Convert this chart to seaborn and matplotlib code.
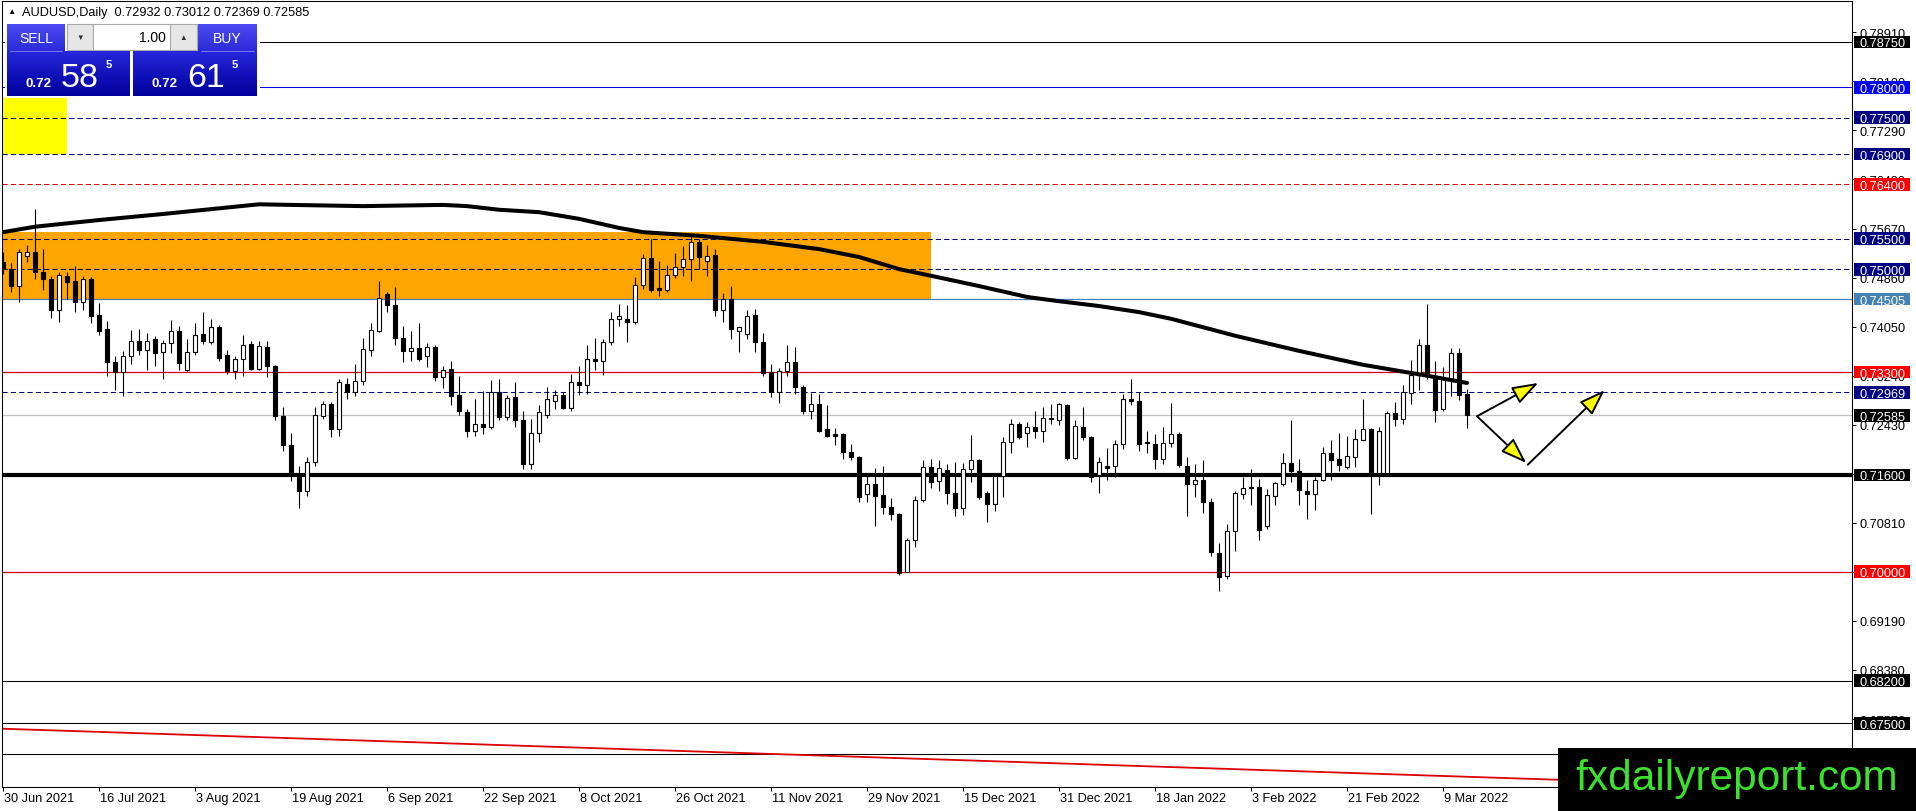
### AUDUSD daily chart, redrawn the way the MT4 terminal shows it

# 1. We import the librairies that we need
import numpy as np
import seaborn as sns
import matplotlib.pyplot as plt
import matplotlib.transforms as mtransforms
from matplotlib.patches import Rectangle
from matplotlib.colors import LinearSegmentedColormap

# 2. The values

symbol = "AUDUSD"
spread = 0.0003

date_labels = ["30 Jun 2021", "16 Jul 2021", "3 Aug 2021", "19 Aug 2021", "6 Sep 2021",
               "22 Sep 2021", "8 Oct 2021", "26 Oct 2021", "11 Nov 2021", "29 Nov 2021",
               "15 Dec 2021", "31 Dec 2021", "18 Jan 2022", "3 Feb 2022", "21 Feb 2022",
               "9 Mar 2022"]
date_label_bars = [0, 12, 24, 36, 48, 60, 72, 84, 96, 108, 120, 132, 144, 156, 168, 180]

opens = [
    0.7511, 0.7500, 0.7472, 0.7522, 0.7529, 0.7495, 0.7484, 0.7432, 0.7488, 0.7481,
    0.7446, 0.7484, 0.7424, 0.7401, 0.7346, 0.7330, 0.7357, 0.7381, 0.7366, 0.7384,
    0.7363, 0.7378, 0.7398, 0.7334, 0.7363, 0.7393, 0.7380, 0.7404, 0.7358, 0.7332,
    0.7351, 0.7377, 0.7335, 0.7371, 0.7340, 0.7257, 0.7210, 0.7160, 0.7134, 0.7182,
    0.7258, 0.7277, 0.7236, 0.7311, 0.7297, 0.7316, 0.7367, 0.7398, 0.7459, 0.7441,
    0.7386, 0.7365, 0.7369, 0.7356, 0.7371, 0.7321, 0.7335, 0.7292, 0.7264, 0.7232,
    0.7245, 0.7240, 0.7297, 0.7255, 0.7288, 0.7250, 0.7178, 0.7230, 0.7259, 0.7283,
    0.7292, 0.7270, 0.7314, 0.7308, 0.7352, 0.7349, 0.7379, 0.7418, 0.7418, 0.7412,
    0.7474, 0.7518, 0.7468, 0.7466, 0.7491, 0.7503, 0.7517, 0.7544, 0.7514, 0.7523,
    0.7432, 0.7451, 0.7398, 0.7393, 0.7424, 0.7379, 0.7330, 0.7297, 0.7331, 0.7346,
    0.7306, 0.7266, 0.7277, 0.7236, 0.7228, 0.7228, 0.7198, 0.7189, 0.7129, 0.7145,
    0.7127, 0.7107, 0.7095, 0.7000, 0.7053, 0.7119, 0.7173, 0.7150, 0.7168, 0.7131,
    0.7105, 0.7170, 0.7185, 0.7130, 0.7112, 0.7158, 0.7214, 0.7244, 0.7229, 0.7240,
    0.7232, 0.7252, 0.7250, 0.7276, 0.7188, 0.7240, 0.7222, 0.7160, 0.7175, 0.7175,
    0.7211, 0.7286, 0.7283, 0.7214, 0.7211, 0.7186, 0.7213, 0.7228, 0.7175, 0.7145,
    0.7152, 0.7115, 0.7032, 0.6993, 0.7068, 0.7129, 0.7140, 0.7140, 0.7076, 0.7126,
    0.7145, 0.7180, 0.7167, 0.7134, 0.7128, 0.7152, 0.7196, 0.7186, 0.7173, 0.7189,
    0.7218, 0.7236, 0.7163, 0.7163, 0.7262, 0.7252, 0.7296, 0.7325, 0.7375, 0.7323,
    0.7269, 0.7319, 0.7362, 0.72932]

highs = [
    0.7528, 0.7510, 0.7534, 0.7540, 0.7600, 0.7534, 0.7489, 0.7495, 0.7495, 0.7505,
    0.7489, 0.7487, 0.7444, 0.7414, 0.7356, 0.7365, 0.7399, 0.7401, 0.7395, 0.7390,
    0.7383, 0.7416, 0.7406, 0.7385, 0.7411, 0.7429, 0.7418, 0.7408, 0.7367, 0.7357,
    0.7391, 0.7381, 0.7382, 0.7382, 0.7342, 0.7272, 0.7230, 0.7175, 0.7190, 0.7272,
    0.7283, 0.7280, 0.7319, 0.7320, 0.7343, 0.7386, 0.7411, 0.7481, 0.7462, 0.7471,
    0.7406, 0.7397, 0.7411, 0.7378, 0.7375, 0.7340, 0.7349, 0.7323, 0.7269, 0.7285,
    0.7299, 0.7317, 0.7319, 0.7292, 0.7314, 0.7265, 0.7252, 0.7275, 0.7305, 0.7301,
    0.7297, 0.7327, 0.7340, 0.7375, 0.7386, 0.7385, 0.7429, 0.7442, 0.7440, 0.7487,
    0.7525, 0.7550, 0.7513, 0.7506, 0.7527, 0.7538, 0.7558, 0.7550, 0.7539, 0.7533,
    0.7461, 0.7472, 0.7405, 0.7433, 0.7434, 0.7395, 0.7343, 0.7336, 0.7374, 0.7371,
    0.7308, 0.7295, 0.7294, 0.7276, 0.7237, 0.7230, 0.7211, 0.7192, 0.7163, 0.7171,
    0.7175, 0.7122, 0.7098, 0.7056, 0.7125, 0.7185, 0.7187, 0.7185, 0.7178, 0.7181,
    0.7180, 0.7226, 0.7186, 0.7134, 0.7162, 0.7222, 0.7253, 0.7247, 0.7248, 0.7265,
    0.7273, 0.7277, 0.7279, 0.7277, 0.7250, 0.7273, 0.7224, 0.7189, 0.7204, 0.7217,
    0.7294, 0.7318, 0.7297, 0.7232, 0.7228, 0.7239, 0.7279, 0.7231, 0.7189, 0.7178,
    0.7184, 0.7122, 0.7048, 0.7079, 0.7133, 0.7156, 0.7170, 0.7153, 0.7137, 0.7149,
    0.7196, 0.7251, 0.7186, 0.7151, 0.7156, 0.7206, 0.7218, 0.7229, 0.7225, 0.7236,
    0.7285, 0.7237, 0.7239, 0.7265, 0.7280, 0.7308, 0.7350, 0.7384, 0.7442, 0.7349,
    0.7338, 0.7369, 0.7369, 0.73012]

lows = [
    0.7492, 0.7462, 0.7446, 0.7511, 0.7483, 0.7465, 0.7419, 0.7412, 0.7451, 0.7429,
    0.7433, 0.7411, 0.7391, 0.7323, 0.7301, 0.7291, 0.7344, 0.7358, 0.7333, 0.7340,
    0.7318, 0.7361, 0.7333, 0.7331, 0.7358, 0.7377, 0.7377, 0.7349, 0.7327, 0.7318,
    0.7324, 0.7333, 0.7334, 0.7321, 0.7250, 0.7200, 0.7150, 0.7106, 0.7125, 0.7175,
    0.7253, 0.7222, 0.7225, 0.7286, 0.7291, 0.7309, 0.7357, 0.7396, 0.7429, 0.7375,
    0.7346, 0.7349, 0.7349, 0.7338, 0.7316, 0.7303, 0.7275, 0.7259, 0.7222, 0.7225,
    0.7228, 0.7236, 0.7250, 0.7250, 0.7240, 0.7170, 0.7170, 0.7215, 0.7254, 0.7269,
    0.7269, 0.7266, 0.7292, 0.7294, 0.7334, 0.7325, 0.7374, 0.7406, 0.7380, 0.7409,
    0.7467, 0.7463, 0.7455, 0.7463, 0.7486, 0.7489, 0.7481, 0.7500, 0.7489, 0.7422,
    0.7413, 0.7384, 0.7363, 0.7385, 0.7363, 0.7323, 0.7288, 0.7279, 0.7324, 0.7294,
    0.7261, 0.7252, 0.7231, 0.7222, 0.7209, 0.7187, 0.7184, 0.7115, 0.7115, 0.7075,
    0.7096, 0.7086, 0.6995, 0.6999, 0.7041, 0.7115, 0.7138, 0.7133, 0.7112, 0.7092,
    0.7094, 0.7148, 0.7120, 0.7083, 0.7100, 0.7123, 0.7197, 0.7219, 0.7207, 0.7221,
    0.7215, 0.7244, 0.7243, 0.7185, 0.7187, 0.7217, 0.7148, 0.7131, 0.7151, 0.7157,
    0.7203, 0.7275, 0.7200, 0.7197, 0.7170, 0.7178, 0.7207, 0.7173, 0.7092, 0.7123,
    0.7097, 0.7026, 0.6969, 0.6989, 0.7035, 0.7121, 0.7110, 0.7052, 0.7071, 0.7110,
    0.7142, 0.7149, 0.7110, 0.7088, 0.7103, 0.7150, 0.7151, 0.7166, 0.7170, 0.7173,
    0.7217, 0.7096, 0.7143, 0.7160, 0.7241, 0.7244, 0.7277, 0.7301, 0.7319, 0.7247,
    0.7266, 0.7291, 0.7284, 0.72369]

closes = [
    0.7500, 0.7472, 0.7528, 0.7529, 0.7495, 0.7483, 0.7432, 0.7491, 0.7479, 0.7446,
    0.7484, 0.7423, 0.7397, 0.7346, 0.7330, 0.7357, 0.7381, 0.7366, 0.7382, 0.7361,
    0.7378, 0.7397, 0.7345, 0.7363, 0.7391, 0.7382, 0.7404, 0.7354, 0.7331, 0.7352,
    0.7375, 0.7335, 0.7373, 0.7340, 0.7257, 0.7210, 0.7160, 0.7134, 0.7182, 0.7259,
    0.7277, 0.7236, 0.7313, 0.7297, 0.7316, 0.7368, 0.7400, 0.7452, 0.7440, 0.7387,
    0.7365, 0.7369, 0.7352, 0.7371, 0.7321, 0.7334, 0.7291, 0.7265, 0.7232, 0.7245,
    0.7240, 0.7297, 0.7255, 0.7287, 0.7250, 0.7178, 0.7230, 0.7264, 0.7285, 0.7292,
    0.7270, 0.7313, 0.7308, 0.7352, 0.7349, 0.7380, 0.7418, 0.7422, 0.7412, 0.7474,
    0.7518, 0.7466, 0.7466, 0.7491, 0.7503, 0.7517, 0.7544, 0.7520, 0.7522, 0.7432,
    0.7451, 0.7401, 0.7404, 0.7423, 0.7379, 0.7329, 0.7297, 0.7331, 0.7346, 0.7305,
    0.7266, 0.7277, 0.7233, 0.7225, 0.7225, 0.7198, 0.7189, 0.7123, 0.7145, 0.7126,
    0.7107, 0.7095, 0.6998, 0.7053, 0.7119, 0.7173, 0.7148, 0.7171, 0.7131, 0.7105,
    0.7170, 0.7185, 0.7123, 0.7112, 0.7158, 0.7214, 0.7244, 0.7222, 0.7240, 0.7232,
    0.7254, 0.7254, 0.7277, 0.7188, 0.7241, 0.7222, 0.7156, 0.7181, 0.7172, 0.7211,
    0.7286, 0.7283, 0.7211, 0.7213, 0.7186, 0.7213, 0.7228, 0.7177, 0.7145, 0.7152,
    0.7115, 0.7033, 0.6991, 0.7068, 0.7130, 0.7138, 0.7138, 0.7070, 0.7127, 0.7147,
    0.7180, 0.7166, 0.7136, 0.7129, 0.7152, 0.7196, 0.7185, 0.7177, 0.7191, 0.7220,
    0.7236, 0.7163, 0.7232, 0.7262, 0.7252, 0.7297, 0.7325, 0.7375, 0.7323, 0.7268,
    0.7319, 0.7362, 0.7292, 0.72585]

# moving average, read at some bars along the black curve
ma_bars = [0, 4, 12, 20, 26, 32, 36, 45, 55, 58, 62, 67, 72, 77, 80, 87, 95, 102, 107, 112,
           116, 122, 128, 132, 137, 142, 146, 150, 154, 162, 170, 178, 183]
ma_values = [0.7561, 0.7570, 0.7581, 0.7591, 0.7599, 0.7607, 0.7606, 0.7604, 0.7606, 0.7604,
             0.7598, 0.7594, 0.7583, 0.7568, 0.7561, 0.7555, 0.7545, 0.7533, 0.7520, 0.7500,
             0.7489, 0.7472, 0.7454, 0.7447, 0.7439, 0.7429, 0.7418, 0.7404, 0.7390, 0.7365,
             0.7342, 0.7324, 0.7312]

# horizontal levels drawn on the chart
level_prices = [0.78750, 0.78000, 0.77500, 0.76900, 0.76400, 0.75500, 0.75000, 0.74505,
                0.73300, 0.72969, 0.72585, 0.71600, 0.70000, 0.68200, 0.67500, 0.67000]
level_kinds = ["black", "blue", "navy", "navy", "reddash", "navy", "navy", "steel",
               "red", "navy", "bid", "thick", "red", "black", "black", "nolabel"]

price_ticks = [0.7891, 0.7810, 0.7729, 0.7648, 0.7567, 0.7486, 0.7405, 0.7324,
               0.7243, 0.7162, 0.7081, 0.7000, 0.6919, 0.6838, 0.6757]

# the two boxes, the trend line and the arrows
zone_bars = [-2, 116]
zone_prices = [0.74505, 0.75613]
yellow_bars = [-2, 8]
yellow_prices = [0.7690, 0.7784]
trend_bars = [0, 184.6]
trend_prices = [0.6741, 0.6661]
arrow_from_bars = [184.25, 184.25, 190.6]
arrow_from_prices = [0.7257, 0.7257, 0.7177]
arrow_to_bars = [191.9, 190.4, 200.2]
arrow_to_prices = [0.7312, 0.7180, 0.7300]

assert len(opens) == len(highs) == len(lows) == len(closes)

# 3. Styles of the levels (colour of the line, width, dash, colour of the price box)
dash = (0, (5, 3))
styles = {
    "black":   ("black",   0.75, "-",  "black"),
    "blue":    ("#0000e0", 0.75, "-",  "#0000f0"),
    "navy":    ("#000080", 0.75, dash, "#000080"),
    "reddash": ("#e00000", 0.75, dash, "#ff0000"),
    "steel":   ("#4682b4", 0.9,  "-",  "#4682b4"),
    "red":     ("#d40000", 0.9,  "-",  "#ff0000"),
    "bid":     ("#c0c0c0", 0.9,  "-",  "black"),
    "thick":   ("black",   3.0,  "-",  "black"),
    "nolabel": ("black",   0.75, "-",  None),
}

sns.set_style("white")
plt.rcParams["font.family"] = ["Liberation Sans", "DejaVu Sans"]

W, H = 1916, 812
fig = plt.figure(figsize=(W / 100, H / 100), dpi=100)

# main chart
ax = fig.add_axes([2 / W, 24 / H, 1850 / W, 786 / H])

ax.add_patch(Rectangle((zone_bars[0], zone_prices[0]), zone_bars[1] - zone_bars[0],
                       zone_prices[1] - zone_prices[0], facecolor="#ffa500",
                       edgecolor="none", zorder=1))
ax.add_patch(Rectangle((yellow_bars[0], yellow_prices[0]), yellow_bars[1] - yellow_bars[0],
                       yellow_prices[1] - yellow_prices[0], facecolor="#ffff00",
                       edgecolor="none", zorder=1))

for price, kind in zip(level_prices, level_kinds):
    color, lw, ls, _ = styles[kind]
    ax.axhline(price, color=color, lw=lw, ls=ls, zorder=2)

ax.axline((trend_bars[0], trend_prices[0]), (trend_bars[1], trend_prices[1]),
          color="#dd0000", lw=1.3, zorder=2)

# candles
bars = np.arange(len(opens))
o, h, l, c = (np.array(v) for v in (opens, highs, lows, closes))
ax.vlines(bars, l, h, color="black", lw=0.8, zorder=3)
body_low = np.minimum(o, c)
body_height = np.maximum(np.abs(c - o), 0.00003)
body_color = np.where(c >= o, "white", "black")
ax.bar(bars, body_height, bottom=body_low, width=0.55, color=body_color,
       edgecolor="black", linewidth=0.8, zorder=4)

# moving average
sns.lineplot(x=ma_bars, y=ma_values, ax=ax, color="black", linewidth=2.9, zorder=5)

# arrows
for xb, yb, xe, ye in zip(arrow_from_bars, arrow_from_prices, arrow_to_bars, arrow_to_prices):
    ax.annotate("", xy=(xe, ye), xytext=(xb, yb), zorder=7,
                arrowprops=dict(arrowstyle="-|>,head_length=0.8,head_width=0.28",
                                facecolor="yellow", edgecolor="black", lw=1.4,
                                shrinkA=0, shrinkB=0, mutation_scale=20))

ax.set_xlim(-0.125, 231.125)
ax.set_ylim(0.66448, 0.79427)
ax.set_xlabel("")
ax.set_ylabel("")
ax.set_xticks([])
ax.set_yticks([])
for sp in ax.spines.values():
    sp.set_color("black")
    sp.set_linewidth(0.75)

# price scale on the right
axp = fig.add_axes([1852 / W, 24 / H, 64 / W, 786 / H], sharey=ax)
axp.set_xlim(0, 64)
axp.axis("off")
text_tf = mtransforms.offset_copy(axp.transData, fig=fig, x=0, y=-4.5, units="dots")
axp.hlines(price_ticks, 0, 4, color="black", lw=0.75)
for v in price_ticks:
    axp.text(7, v, f"{v:.5f}", transform=text_tf, fontsize=9.2, va="baseline",
             ha="left", color="black", zorder=2)
for price, kind in zip(level_prices, level_kinds):
    box = styles[kind][3]
    if box is None:
        continue
    axp.add_patch(Rectangle((2, price - 0.00106), 56, 0.00213, facecolor=box,
                            edgecolor="none", zorder=3))
    axp.text(7, price, f"{price:.5f}", transform=text_tf, fontsize=9.2, va="baseline",
             ha="left", color="white", zorder=4)

# date scale at the bottom
axd = fig.add_axes([2 / W, 0, 1850 / W, 24 / H], sharex=ax)
axd.set_ylim(24, 0)
axd.axis("off")
axd.vlines(date_label_bars, 0, 4, color="black", lw=0.75)
for b, lab in zip(date_label_bars, date_labels):
    axd.text(b + 0.15, 11.5, lab, fontsize=9.2, va="center", ha="left", color="black")

# 4. Terminal decorations: header, trade panel and the watermark
ov = fig.add_axes([0, 0, 1, 1])
ov.set_zorder(10)
ov.axis("off")


def grad_box(x0, y0, x1, y1, top, bottom):
    cmap = LinearSegmentedColormap.from_list("g", [top, bottom])
    ov.imshow(np.linspace(0, 1, 64).reshape(-1, 1), cmap=cmap, aspect="auto",
              extent=(x0, x1, y1, y0), interpolation="bilinear", zorder=2)


def flat_box(x0, y0, x1, y1, face, edge="none"):
    ov.add_patch(Rectangle((x0, y0), x1 - x0, y1 - y0, facecolor=face, edgecolor=edge,
                           lw=0.8, zorder=2))


header = (f"{symbol},Daily  {opens[-1]:.5f} {highs[-1]:.5f} "
          f"{lows[-1]:.5f} {closes[-1]:.5f}")
ov.text(7, 13, "\u25b2", fontsize=6, va="center", ha="left", color="black")
ov.text(22, 13, header, fontsize=9.2, va="center", ha="left", color="black")

flat_box(5, 23, 260, 99, "white")
grad_box(7, 25, 65, 52, "#4c4cf5", "#2b2bd8")
grad_box(198, 25, 257, 52, "#4c4cf5", "#2b2bd8")
flat_box(67, 25, 93, 51, "#e6e6e6", "#a8a8a8")
flat_box(93, 25, 170, 51, "white", "#a8a8a8")
flat_box(170, 25, 197, 51, "#e6e6e6", "#a8a8a8")
grad_box(7, 52, 130, 97, "#2626dc", "#00009c")
grad_box(133, 52, 257, 97, "#2626dc", "#00009c")
ov.plot([10, 62], [51.5, 51.5], color="#7a7af5", lw=0.7, zorder=3)
ov.plot([201, 254], [51.5, 51.5], color="#7a7af5", lw=0.7, zorder=3)

ov.text(36, 39, "SELL", fontsize=10, color="white", ha="center", va="center", zorder=4)
ov.text(227, 39, "BUY", fontsize=10, color="white", ha="center", va="center", zorder=4)
ov.text(80, 38, "\u25bc", fontsize=5.5, color="#303030", ha="center", va="center", zorder=4)
ov.text(183, 38, "\u25b2", fontsize=5.5, color="#303030", ha="center", va="center", zorder=4)
ov.text(166, 38, "1.00", fontsize=10, color="black", ha="right", va="center", zorder=4)

bid_text = f"{closes[-1]:.5f}"
ask_text = f"{closes[-1] + spread:.5f}"
for txt, x_small, x_big, x_pip in [(bid_text, 26, 61, 106), (ask_text, 152, 187, 232)]:
    ov.text(x_small, 87, txt[:4], fontsize=9.5, fontweight="bold", color="white",
            ha="left", va="baseline", zorder=4)
    ov.text(x_big, 87, txt[4:6], fontsize=24.5, color="white", ha="left",
            va="baseline", zorder=4)
    ov.text(x_pip, 68, txt[6], fontsize=8, fontweight="bold", color="white",
            ha="left", va="baseline", zorder=4)

flat_box(1558, 749, W, H, "black")
ov.text(1575, 790, "fxdailyreport.com", fontsize=30.5, color="#3ee030", ha="left",
        va="baseline", zorder=4)

ov.set_xlim(0, W)
ov.set_ylim(H, 0)

fig.savefig("out.png", dpi=100)
